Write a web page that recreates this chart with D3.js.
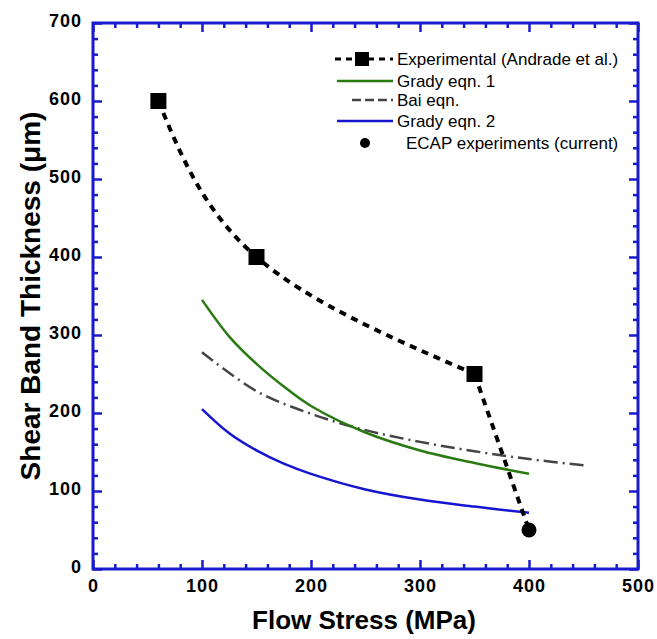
<!DOCTYPE html>
<html>
<head>
<meta charset="utf-8">
<script src="https://cdn.jsdelivr.net/npm/d3@7"></script>
<style>
  body { margin: 0; background: #fff; }
  svg { display: block; font-family: Arial, "Liberation Sans", sans-serif; }
</style>
</head>
<body>
<div id="container"></div>
<script>
// Values
const xTicks = [0, 100, 200, 300, 400, 500];
const yTicks = [0, 100, 200, 300, 400, 500, 600, 700];

// Experimental (Andrade et al.)
const andradeStress = [60, 150, 350];
const andradeThick = [600, 400, 250];
// ECAP experiments (current)
const ecapStress = [400];
const ecapThick = [50];

// Grady eqn. 1
const grady1Stress = [100, 125, 150, 175, 200, 250, 300, 350, 400];
const grady1Thick = [345, 298, 263, 234, 209, 175, 152, 136, 122];
// Bai eqn.
const baiStress = [100, 150, 200, 250, 300, 350, 400, 450];
const baiThick = [278, 228, 199, 178, 163, 151, 141, 133];
// Grady eqn. 2
const grady2Stress = [100, 125, 150, 175, 200, 250, 300, 350, 400];
const grady2Thick = [205, 174, 152, 135, 122, 102, 89, 80, 72];

const width = 657;
const height = 639;
const marginTop = 23;
const marginRight = 19;
const marginBottom = 70;
const marginLeft = 93;
const axisColor = "#1a1acd";

const x = d3.scaleLinear()
    .domain([0, 500])
    .range([marginLeft, width - marginRight]);

const y = d3.scaleLinear()
    .domain([0, 700])
    .range([height - marginBottom, marginTop]);

const svg = d3.create("svg")
    .attr("width", width)
    .attr("height", height)
    .attr("viewBox", [0, 0, width, height]);

// minor ticks (every 20) on all four sides, pointing inward
const minorX = d3.range(0, 501, 20).filter(d => d % 100 !== 0);
const minorY = d3.range(0, 701, 20).filter(d => d % 100 !== 0);

function styleAxis(g) {
  g.selectAll(".domain").remove();
  g.selectAll(".tick line").attr("stroke", axisColor).attr("stroke-width", 2.5);
}
function styleLabels(g) {
  g.selectAll("text")
      .attr("fill", "#000")
      .attr("font-size", 18)
      .attr("font-weight", "bold")
      .attr("letter-spacing", 1);
}

// bottom
svg.append("g")
    .attr("transform", `translate(0,${y(0)})`)
    .call(d3.axisBottom(x).tickValues(minorX).tickSize(-5).tickFormat(""))
    .call(styleAxis);
svg.append("g")
    .attr("transform", `translate(0,${y(0)})`)
    .call(d3.axisBottom(x).tickValues(xTicks).tickSize(-9).tickPadding(10))
    .call(styleAxis)
    .call(styleLabels);
// top
svg.append("g")
    .attr("transform", `translate(0,${y(700)})`)
    .call(d3.axisTop(x).tickValues(minorX).tickSize(-5).tickFormat(""))
    .call(styleAxis);
svg.append("g")
    .attr("transform", `translate(0,${y(700)})`)
    .call(d3.axisTop(x).tickValues(xTicks).tickSize(-9).tickFormat(""))
    .call(styleAxis);
// left
svg.append("g")
    .attr("transform", `translate(${x(0)},0)`)
    .call(d3.axisLeft(y).tickValues(minorY).tickSize(-5).tickFormat(""))
    .call(styleAxis);
svg.append("g")
    .attr("transform", `translate(${x(0)},0)`)
    .call(d3.axisLeft(y).tickValues(yTicks).tickSize(-9).tickPadding(11))
    .call(styleAxis)
    .call(styleLabels)
    .call(g => g.selectAll("text").attr("dy", "0.2em"));
// right
svg.append("g")
    .attr("transform", `translate(${x(500)},0)`)
    .call(d3.axisRight(y).tickValues(minorY).tickSize(-5).tickFormat(""))
    .call(styleAxis);
svg.append("g")
    .attr("transform", `translate(${x(500)},0)`)
    .call(d3.axisRight(y).tickValues(yTicks).tickSize(-9).tickFormat(""))
    .call(styleAxis);

// frame
svg.append("rect")
    .attr("x", x(0))
    .attr("y", y(700))
    .attr("width", x(500) - x(0))
    .attr("height", y(0) - y(700))
    .attr("fill", "none")
    .attr("stroke", axisColor)
    .attr("stroke-width", 3);

// axis titles
svg.append("text")
    .attr("x", 364)
    .attr("y", 629)
    .attr("text-anchor", "middle")
    .attr("font-size", 26)
    .attr("font-weight", "bold")
    .text("Flow Stress (MPa)");

svg.append("text")
    .attr("transform", `translate(40,${(y(0) + y(700)) / 2}) rotate(-90)`)
    .attr("text-anchor", "middle")
    .attr("font-size", 28)
    .attr("font-weight", "bold")
    .text("Shear Band Thickness (\u03bcm)");

const pts = (xs, ys) => xs.map((d, i) => [d, ys[i]]);
const line = d3.line().x(d => x(d[0])).y(d => y(d[1]));
const smooth = d3.curveCatmullRom.alpha(0.5);

// model curves
svg.append("path")
    .attr("d", line.curve(smooth)(pts(baiStress, baiThick)))
    .attr("fill", "none")
    .attr("stroke", "#444")
    .attr("stroke-width", 2.5)
    .attr("stroke-dasharray", "14,5,2,5");

svg.append("path")
    .attr("d", line.curve(smooth)(pts(grady1Stress, grady1Thick)))
    .attr("fill", "none")
    .attr("stroke", "#2a7a12")
    .attr("stroke-width", 2.5);

svg.append("path")
    .attr("d", line.curve(smooth)(pts(grady2Stress, grady2Thick)))
    .attr("fill", "none")
    .attr("stroke", "#1616d0")
    .attr("stroke-width", 2.5);

// experimental dashed curve: smooth through Andrade points, then on to ECAP point
svg.append("path")
    .attr("d", line.curve(d3.curveNatural)(pts(andradeStress, andradeThick)))
    .attr("fill", "none")
    .attr("stroke", "#000")
    .attr("stroke-width", 4)
    .attr("stroke-dasharray", "7,6");
svg.append("path")
    .attr("d", line.curve(d3.curveLinear)(pts(andradeStress.slice(-1).concat(ecapStress), andradeThick.slice(-1).concat(ecapThick))))
    .attr("fill", "none")
    .attr("stroke", "#000")
    .attr("stroke-width", 4)
    .attr("stroke-dasharray", "7,6");

svg.append("g")
  .selectAll()
  .data(pts(andradeStress, andradeThick))
  .join("rect")
    .attr("x", d => x(d[0]) - 8)
    .attr("y", d => y(d[1]) - 8)
    .attr("width", 16)
    .attr("height", 16)
    .attr("fill", "#000");

svg.append("g")
  .selectAll()
  .data(pts(ecapStress, ecapThick))
  .join("circle")
    .attr("cx", d => x(d[0]))
    .attr("cy", d => y(d[1]))
    .attr("r", 7.5)
    .attr("fill", "#000");

// legend
const legend = svg.append("g").attr("font-size", 17);
const legendItems = [
  {label: "Experimental (Andrade et al.)", y: 59, x1: 335, stroke: "#000", dash: "6,5", w: 3, mark: "square"},
  {label: "Grady eqn. 1", y: 81, x1: 337, stroke: "#2a7a12", dash: null, w: 2.5},
  {label: "Bai eqn.", y: 100, x1: 352, stroke: "#444", dash: "9,4", w: 2.5},
  {label: "Grady eqn. 2", y: 121, x1: 337, stroke: "#1616d0", dash: null, w: 2.5},
  {label: "ECAP experiments (current)", y: 143, x1: null, mark: "circle"}
];
legendItems.forEach((d, i) => {
  if (d.x1 !== null) {
    legend.append("line")
        .attr("x1", d.x1).attr("x2", 393)
        .attr("y1", d.y).attr("y2", d.y)
        .attr("stroke", d.stroke)
        .attr("stroke-width", d.w)
        .attr("stroke-dasharray", d.dash);
  }
  if (d.mark === "square") {
    legend.append("rect").attr("x", 355).attr("y", d.y - 7).attr("width", 14).attr("height", 14).attr("fill", "#000");
  }
  if (d.mark === "circle") {
    legend.append("circle").attr("cx", 365).attr("cy", d.y).attr("r", 5).attr("fill", "#000");
  }
  legend.append("text")
      .attr("x", i === 4 ? 406 : 397)
      .attr("y", d.y)
      .attr("dy", "0.35em")
      .attr("fill", "#000")
      .text(d.label);
});

container.append(svg.node());
</script>
</body>
</html>
